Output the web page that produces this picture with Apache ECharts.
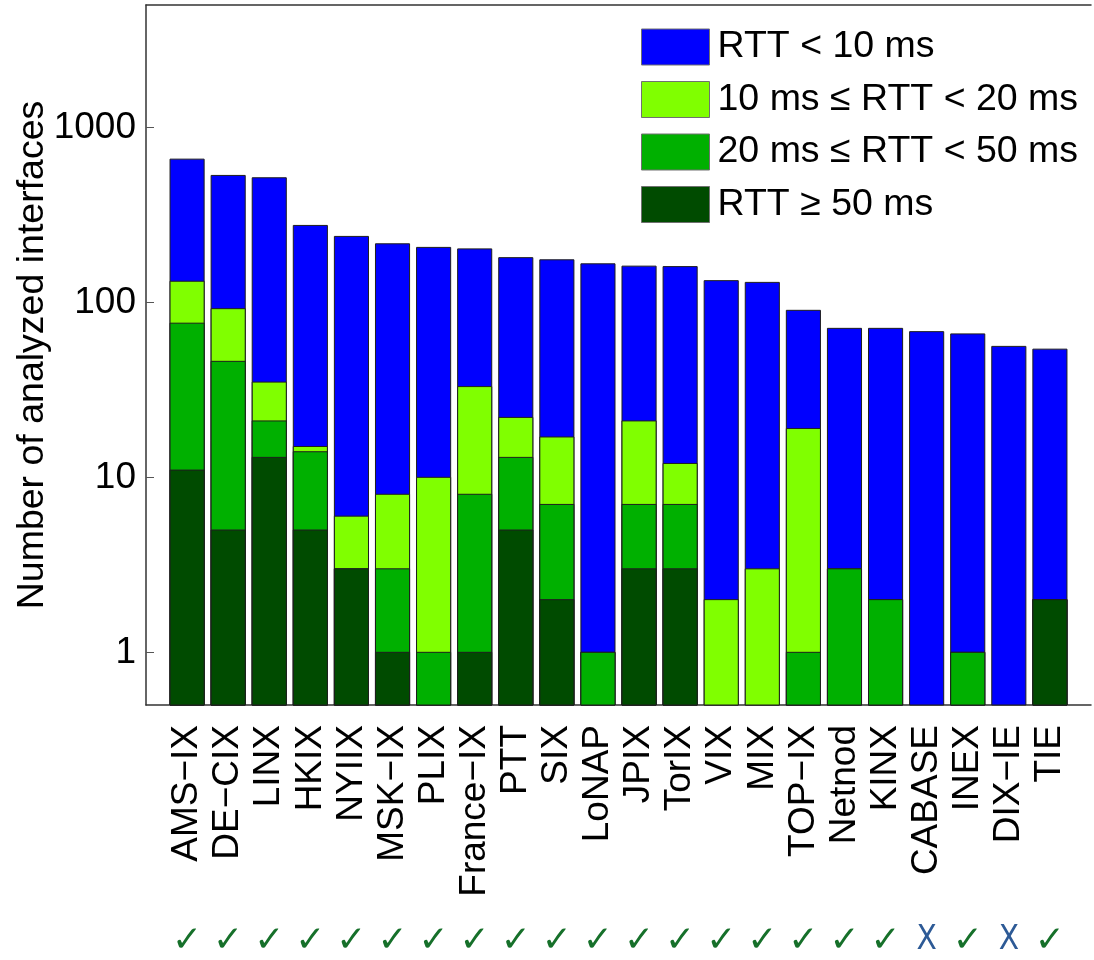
<!DOCTYPE html>
<html>
<head>
<meta charset="utf-8">
<script src="https://cdn.jsdelivr.net/npm/echarts@6/dist/echarts.min.js"></script>
<style>
html,body{margin:0;padding:0;background:#fff;}
#chart{width:1094px;height:960px;}
</style>
</head>
<body>
<div id="chart"></div>
<script>
// ---- data ----
const categories = ['AMS\u2212IX','DE\u2212CIX','LINX','HKIX','NYIIX','MSK\u2212IX','PLIX','France\u2212IX','PTT','SIX','LoNAP','JPIX','TorIX','VIX','MIX','TOP\u2212IX','Netnod','KINX','CABASE','INEX','DIX\u2212IE','TIE'];
// number of interfaces per RTT class
const rttOver50  = [11, 5,13, 5, 3, 1, 0, 1, 5, 2, 0, 3, 3, 0, 0, 0, 0, 0, 0, 0, 0, 2];
const rtt20to50  = [65,41, 8, 9, 0, 2, 1, 7, 8, 5, 1, 4, 4, 0, 0, 1, 3, 2, 0, 1, 0, 0];
const rtt10to20  = [56,46,14, 1, 3, 5, 9,25, 9,10, 0,14, 5, 2, 3,18, 0, 0, 0, 0, 0, 0];
const rttUnder10 = [526,439,480,260,232,208,196,169,158,158,165,140,148,131,127,71,68,69,68,65,56,52];
const marks = ['ok','ok','ok','ok','ok','ok','ok','ok','ok','ok','ok','ok','ok','ok','ok','ok','ok','ok','no','ok','no','ok'];
const yTicks = [1, 10, 100, 1000];
const seriesNames = ['RTT < 10 ms', '10 ms \u2264 RTT < 20 ms', '20 ms \u2264 RTT < 50 ms', 'RTT \u2265 50 ms'];
const seriesColors = ['#0000FF', '#80FF00', '#00B000', '#004B00'];

const Y_MIN = 0.5, Y_MAX = 5000;
const BAR_W = 0.83;

// cumulative tops (stack order: >=50, 20-50, 10-20, <10)
const layers = [rttOver50, rtt20to50, rtt10to20, rttUnder10];
const cum = [];
let run = categories.map(() => 0);
layers.forEach(arr => { run = run.map((v, i) => v + arr[i]); cum.push(run.slice()); });
// series order drawn: <10 (total) first, then 10-20, 20-50, >=50
const seriesCum = [cum[3], cum[2], cum[1], cum[0]];

function renderBar(params, api) {
  const x = api.value(0), v = api.value(1);
  if (!(v > 0)) return null;
  const l = api.coord([x - BAR_W / 2, v]);
  const r = api.coord([x + BAR_W / 2, v]);
  const b = api.coord([x, Y_MIN]);
  return {
    type: 'rect',
    shape: { x: l[0], y: l[1], width: r[0] - l[0], height: b[1] - l[1] },
    style: { fill: api.visual('color'), stroke: '#1e1e1e', lineWidth: 1 }
  };
}

const font = 'Liberation Sans, Arial, sans-serif';
const chart = echarts.init(document.getElementById('chart'), null, { renderer: 'canvas' });
chart.setOption({
  animation: false,
  backgroundColor: '#fff',
  grid: { left: 146, top: 5, width: 959, height: 701 },
  legend: {
    orient: 'vertical', left: 641, top: 28, padding: 0,
    itemWidth: 68, itemHeight: 36, itemGap: 14.5,
    icon: 'rect',
    data: seriesNames,
    itemStyle: { borderColor: '#707070', borderWidth: 1 },
    textStyle: { fontSize: 37.5, fontFamily: font, color: '#000', lineHeight: 36, padding: [0, 0, 0, 3] }
  },
  xAxis: [
    {
      type: 'value', min: 0, max: 23, interval: 1, position: 'bottom',
      splitLine: { show: false },
      axisLine: { show: true, lineStyle: { color: '#333', width: 1.5 } },
      axisTick: { show: false },
      axisLabel: {
        rotate: 90, margin: 20, fontSize: 37, fontFamily: font, color: '#000',
        formatter: v => categories[Math.round(v) - 1] || ''
      }
    },
    {
      type: 'value', min: 0, max: 23, interval: 1, position: 'bottom',
      splitLine: { show: false },
      axisLine: { show: false }, axisTick: { show: false },
      axisLabel: {
        margin: 219,
        formatter: v => { const m = marks[Math.round(v) - 1]; return m ? (m === 'ok' ? '{ok|\u2713}' : '{no|X}') : ''; },
        rich: {
          ok: { color: '#16702a', fontSize: 36, fontFamily: 'DejaVu Sans', fontWeight: 'bold' },
          no: { color: '#2d5a96', fontSize: 33, fontFamily: 'DejaVu Sans Condensed, DejaVu Sans' }
        }
      }
    },
    {
      type: 'value', min: 0, max: 23, position: 'top',
      splitLine: { show: false },
      axisLine: { show: true, lineStyle: { color: '#333', width: 1.5 } },
      axisTick: { show: false }, axisLabel: { show: false }
    }
  ],
  yAxis: {
    type: 'log', logBase: 10, min: Y_MIN, max: Y_MAX,
    name: 'Number of analyzed interfaces', nameLocation: 'middle', nameRotate: 90, nameGap: 94,
    nameMoveOverlap: false,
    nameTextStyle: { fontSize: 37.5, fontFamily: font, color: '#000' },
    splitLine: { show: false },
    axisLine: { show: true, lineStyle: { color: '#333', width: 1.5 } },
    axisTick: { show: true, inside: true, length: 8, lineStyle: { color: '#555' } },
    minorTick: { show: false },
    axisLabel: {
      fontSize: 37, fontFamily: font, color: '#000', margin: 10,
      showMinLabel: false, showMaxLabel: false,
      formatter: v => { const t = yTicks.find(t => Math.abs(t - v) / t < 1e-6); return t ? String(t) : ''; }
    }
  },
  series: seriesNames.map((name, k) => ({
    name, type: 'custom', xAxisIndex: 0, yAxisIndex: 0,
    itemStyle: { color: seriesColors[k] },
    renderItem: renderBar,
    encode: { x: 0, y: 1 },
    data: seriesCum[k].map((v, i) => [i + 1, v])
  }))
});
</script>
</body>
</html>
